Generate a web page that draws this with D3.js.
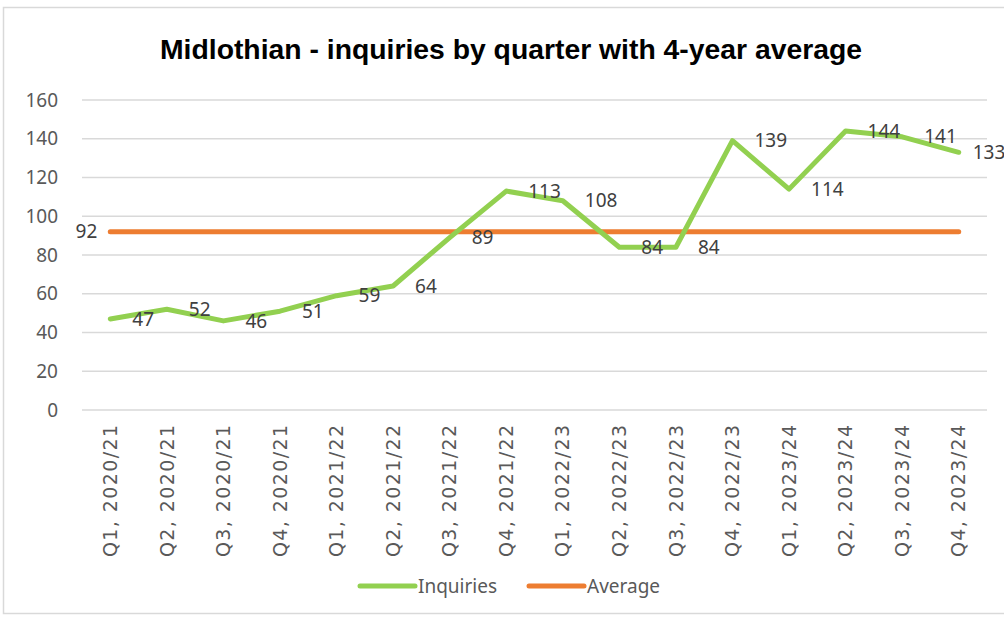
<!DOCTYPE html>
<html>
<head>
<meta charset="utf-8">
<script src="https://cdn.jsdelivr.net/npm/d3@7"></script>
<style>
  body { margin: 0; background: #fff; }
  text { font-family: "Noto Sans", "Open Sans", sans-serif; }
</style>
</head>
<body>
<div id="chart"></div>
<script>
// chart data
let quarters = ['Q1, 2020/21', 'Q2, 2020/21', 'Q3, 2020/21', 'Q4, 2020/21',
    'Q1, 2021/22', 'Q2, 2021/22', 'Q3, 2021/22', 'Q4, 2021/22',
    'Q1, 2022/23', 'Q2, 2022/23', 'Q3, 2022/23', 'Q4, 2022/23',
    'Q1, 2023/24', 'Q2, 2023/24', 'Q3, 2023/24', 'Q4, 2023/24']
let inquiries = [47, 52, 46, 51, 59, 64, 89, 113, 108, 84, 84, 139, 114, 144, 141, 133]
let averageValue = 92
let average = quarters.map(() => averageValue)
let yTicks = [0, 20, 40, 60, 80, 100, 120, 140, 160]

let W = 1004, H = 618
let margin = { top: 100, right: 17, bottom: 208, left: 82 }
let width = W - margin.left - margin.right
let height = H - margin.top - margin.bottom

let root = d3.select('#chart').append('svg')
    .attr('width', W)
    .attr('height', H)

// outer chart border
root.append('rect')
    .attr('x', 3.5).attr('y', 7.5)
    .attr('width', 1010).attr('height', 606)
    .attr('fill', 'none')
    .attr('stroke', '#d9d9d9')
    .attr('stroke-width', 1.5)

root.append('text')
    .attr('x', 511).attr('y', 59)
    .attr('text-anchor', 'middle')
    .style('font-family', '"Liberation Sans Narrow", "Liberation Sans", Arial, sans-serif')
    .style('font-size', '28px')
    .style('font-weight', 'bold')
    .attr('textLength', 702)
    .attr('lengthAdjust', 'spacingAndGlyphs')
    .text('Midlothian - inquiries by quarter with 4-year average')

let svg = root.append('g')
    .attr('transform', `translate(${margin.left}, ${margin.top})`)

let x = d3.scaleBand()
    .domain(quarters)
    .range([0, width])

let y = d3.scaleLinear()
    .domain([0, 160])
    .range([height, 0])

let cx = d => x(d) + x.bandwidth() / 2

// grid lines
svg.append('g')
    .selectAll('line')
    .data(yTicks)
    .join('line')
    .attr('x1', 0).attr('x2', width)
    .attr('y1', d => y(d)).attr('y2', d => y(d))
    .attr('stroke', '#d9d9d9')
    .attr('stroke-width', 1.5)

// y axis
let yAxis = svg.append('g')
    .call(d3.axisLeft(y).tickValues(yTicks).tickSize(0).tickPadding(24))
yAxis.select('.domain').remove()
yAxis.selectAll('text')
    .style('font-family', '"Noto Sans", sans-serif')
    .style('font-size', '19px')
    .attr('fill', '#595959')

// x axis
let xAxis = svg.append('g')
    .attr('transform', `translate(0, ${height})`)
    .call(d3.axisBottom(x).tickSize(0))
xAxis.select('.domain').remove()
xAxis.selectAll('text')
    .style('font-family', '"DejaVu Sans", sans-serif')
    .style('font-size', '19px')
    .attr('fill', '#595959')
    .attr('transform', 'rotate(-90)')
    .attr('text-anchor', 'end')
    .attr('x', -15)
    .attr('y', 0)
    .attr('dy', '0.35em')
    .attr('textLength', 132)
    .attr('lengthAdjust', 'spacing')

let line = d3.line()
    .x((d, i) => cx(quarters[i]))
    .y(d => y(d))

svg.append('path')
    .datum(average)
    .attr('d', line)
    .attr('fill', 'none')
    .attr('stroke', '#ED7D31')
    .attr('stroke-width', 5)
    .attr('stroke-linecap', 'round')

svg.append('path')
    .datum(inquiries)
    .attr('d', line)
    .attr('fill', 'none')
    .attr('stroke', '#92D050')
    .attr('stroke-width', 5)
    .attr('stroke-linejoin', 'round')
    .attr('stroke-linecap', 'round')

// data labels, placed right of each point (last one nudged in, as Excel does)
svg.append('g')
    .selectAll('text')
    .data(inquiries)
    .join('text')
    .attr('x', (d, i) => cx(quarters[i]) + (i === inquiries.length - 1 ? 14 : 22))
    .attr('y', d => y(d))
    .attr('dy', '0.35em')
    .style('font-size', '19px')
    .attr('fill', '#404040')
    .text(d => d)

// average label, left of first point
svg.append('text')
    .attr('x', cx(quarters[0]) - 13)
    .attr('y', y(averageValue))
    .attr('dy', '0.35em')
    .attr('text-anchor', 'end')
    .style('font-size', '19px')
    .attr('fill', '#404040')
    .text(averageValue)

// legend
let legendItems = [
    { name: 'Inquiries', color: '#92D050', x: 358 },
    { name: 'Average', color: '#ED7D31', x: 527 }
]
let legend = root.append('g')
    .selectAll('g')
    .data(legendItems)
    .join('g')
    .attr('transform', d => `translate(${d.x}, 586)`)
legend.append('line')
    .attr('x1', 2).attr('x2', 57)
    .attr('stroke', d => d.color)
    .attr('stroke-width', 5)
    .attr('stroke-linecap', 'round')
legend.append('text')
    .attr('x', 60)
    .attr('dy', '0.35em')
    .style('font-size', '19px')
    .attr('fill', '#595959')
    .text(d => d.name)
</script>
</body>
</html>
